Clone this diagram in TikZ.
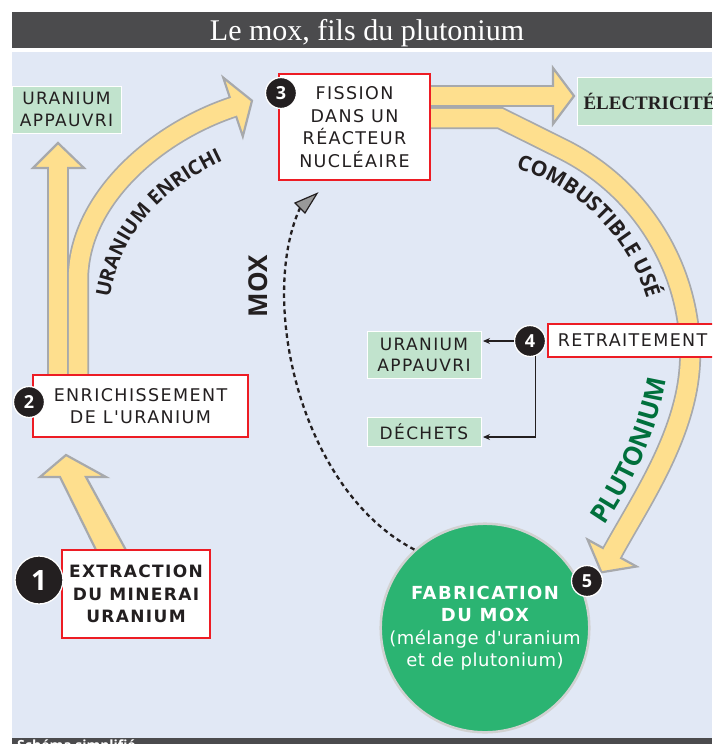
\documentclass[tikz,border=0pt]{standalone}
\usepackage{fontspec}
\setmainfont{Liberation Serif}
\newfontfamily\lab{DejaVu Sans}[LetterSpace=8]
\newfontfamily\labt{DejaVu Sans}[LetterSpace=3]
\newfontfamily\curv{Open Sans}
\usetikzlibrary{decorations.text,arrows.meta}
\definecolor{bgblue}{RGB}{225,232,245}
\definecolor{titlegray}{RGB}{75,75,77}
\definecolor{arrowyellow}{RGB}{254,223,142}
\definecolor{arrowgray}{RGB}{167,169,172}
\definecolor{boxgreen}{RGB}{193,227,205}
\definecolor{boxred}{RGB}{237,28,36}
\definecolor{circgreen}{RGB}{43,180,114}
\definecolor{plugreen}{RGB}{0,112,60}
\definecolor{ink}{RGB}{35,31,32}
\tikzset{
  band/.style={line width=22pt, draw=arrowgray, line join=miter},
  bandin/.style={line width=18.5pt, draw=arrowyellow, line join=miter},
  head/.style={fill=arrowyellow, draw=arrowgray, line width=2.2pt, line join=miter},
  redbox/.style={draw=boxred, line width=1.6pt, fill=white, text=ink, align=center},
  greenbox/.style={fill=boxgreen, draw=white, line width=1pt, text=ink, align=center},
  badge/.style={circle, fill=ink, draw=white, line width=1.3pt, text=white, inner sep=0pt, minimum size=31pt, font=\curv\bfseries\fontsize{18}{18}\selectfont},
  conn/.style={draw=ink, line width=1.1pt, -{Stealth[length=7pt,width=6pt]}, shorten >=1.5pt},
  labelfont/.style={font=\lab\fontsize{17.5}{22.7}\selectfont}
}
\begin{document}
\begin{tikzpicture}[x=1pt,y=-1pt]
\clip (0,0) rectangle (712,744);
\fill[white] (0,0) rectangle (712,744);
\fill[bgblue] (12,52) rectangle (712,738);
\fill[titlegray] (12,12) rectangle (712,48);
\node[anchor=base, text=white, font=\fontsize{30}{30}\selectfont, inner sep=0pt] (title) at (367,40) {Le mox, fils du plutonium};
\fill[titlegray] (12,738) rectangle (712,750);
\node[anchor=base west, text=white, font=\curv\bfseries\fontsize{14}{14}\selectfont, inner sep=0pt] (note) at (17,750) {Schéma simplifié};

% yellow bands: gray borders
\draw[band] (58,380) -- (58,165);
\draw[band] (78,380) -- (78,280) .. controls (78,200) and (155,133) .. (233,107);
\draw[band] (425,96) -- (556,96);
\draw[band] (425,118) -- (500,118) -- (563,149.3) arc[start angle=-63.43, end angle=0, radius=230] .. controls (690,430) and (641,500) .. (612,553);
% heads
\filldraw[head] (553,68) -- (574,96) -- (553,124) -- cycle;
\filldraw[head] (33,168) -- (58,143) -- (84,168) -- cycle;
\filldraw[head] (223.2,77.6) -- (252,100.7) -- (242.8,136.4) -- cycle;
\filldraw[head] (587.5,539.5) -- (601.4,572.3) -- (636.5,566.5) -- cycle;
% yellow fills
\draw[bandin] (58,380) -- (58,165);
\draw[bandin] (78,380) -- (78,280) .. controls (78,200) and (155,133) .. (233,107) -- ++(3.8,-1.3);
\draw[bandin] (425,96) -- (556,96);
\draw[bandin] (425,118) -- (500,118) -- (563,149.3) arc[start angle=-63.43, end angle=0, radius=230] .. controls (690,430) and (641,500) .. (612,553) -- ++(-1.9,3.5);
% arrow 1 -> 2
\filldraw[head] (97,552) -- (60,477) -- (40,477) -- (66,455) -- (106,477) -- (86,477) -- (127,552) -- cycle;

% boxes
\node[redbox, minimum width=151pt, minimum height=106pt, labelfont] (fission) at (354.5,127) {FISSION\\DANS UN\\RÉACTEUR\\NUCLÉAIRE};
\node[redbox, minimum width=215pt, minimum height=62pt, labelfont] (enrich) at (140.5,406) {ENRICHISSEMENT\\DE L'URANIUM};
\node[redbox, minimum width=148pt, minimum height=88pt, font=\lab\bfseries\fontsize{17}{22.5}\selectfont] (extract) at (136,594) {EXTRACTION\\DU MINERAI\\URANIUM};
\node[redbox, anchor=west, minimum height=33pt, text width=180pt, align=left, inner xsep=10pt, labelfont] (retrait) at (547,340.5) {RETRAITEMENT};

\node[greenbox, minimum width=109pt, minimum height=47pt, font=\lab\fontsize{17}{22.5}\selectfont] (uapp1) at (66.5,109.5) {URANIUM\\APPAUVRI};
\node[greenbox, minimum width=114pt, minimum height=47pt, font=\lab\fontsize{17}{21}\selectfont] (uapp2) at (424,354.5) {URANIUM\\APPAUVRI};
\node[greenbox, minimum width=114pt, minimum height=29pt, font=\lab\fontsize{17}{21}\selectfont] (dech) at (424,431.5) {DÉCHETS};
\node[greenbox, anchor=west, minimum height=48pt, text width=150pt, align=left, inner xsep=6pt, font=\bfseries\fontsize{19}{19}\selectfont] (elec) at (577,101) {ÉLECTRICITÉ};

% circle
\node[circle, fill=circgreen, draw=black!18, line width=2.5pt, minimum size=198pt, inner sep=0pt, align=center, text=white, font=\lab\fontsize{18}{22.5}\selectfont] (fab) at (485,628) {{\bfseries FABRICATION}\\{\bfseries DU MOX}\\{\labt (mélange d'uranium}\\{\labt et de plutonium)}};

% badges
\node[badge] (b3) at (281,93) {3};
\node[badge] (b2) at (29,402) {2};
\node[badge] (b4) at (530,341) {4};
\node[badge] (b5) at (587,581) {5};
\node[badge, minimum size=48pt, font=\curv\bfseries\fontsize{28}{28}\selectfont] (b1) at (39,580) {1};

% connectors from 4
\draw[conn] (b4) -- (b4 -| uapp2.east);
\draw[conn] (b4.-70) |- ([yshift=-5.5pt]dech.east);

% MOX dashed arrow
\draw[dash pattern=on 4.5pt off 3.5pt, line width=2.3pt, draw=ink] (fab.132) .. controls (300,490) and (258,300) .. (300,208);
\filldraw[fill=black!40, draw=ink, line width=1.2pt, line join=miter] (317,193.5) -- (295,203) -- (305,213) -- cycle;
\node[rotate=90, font=\curv\bfseries\fontsize{26}{26}\selectfont, text=ink] (moxlbl) at (258,286) {MOX};

% curved labels
\path[decorate, decoration={text along path, text align=center, text color=ink,
  text={|\curv\bfseries\fontsize{20}{20}\selectfont|URANIUM ENRICHI}}]
  (108,312) .. controls (115,232) and (165,185) .. (236,155);
\path[decorate, decoration={text along path, text align=center, text color=ink,
  text={|\curv\bfseries\fontsize{21}{21}\selectfont|COMBUSTIBLE USÉ}}]
  (460,355) ++(-78:195) arc[start angle=-78, end angle=-12, radius=195];
\path[decorate, decoration={text along path, text align=center, text color=plugreen,
  text={|\curv\bfseries\fontsize{26}{26}\selectfont|PLUTONIUM}}]
  (600,532) .. controls (630,490) and (660,430) .. (667,372);
\end{tikzpicture}
\end{document}
